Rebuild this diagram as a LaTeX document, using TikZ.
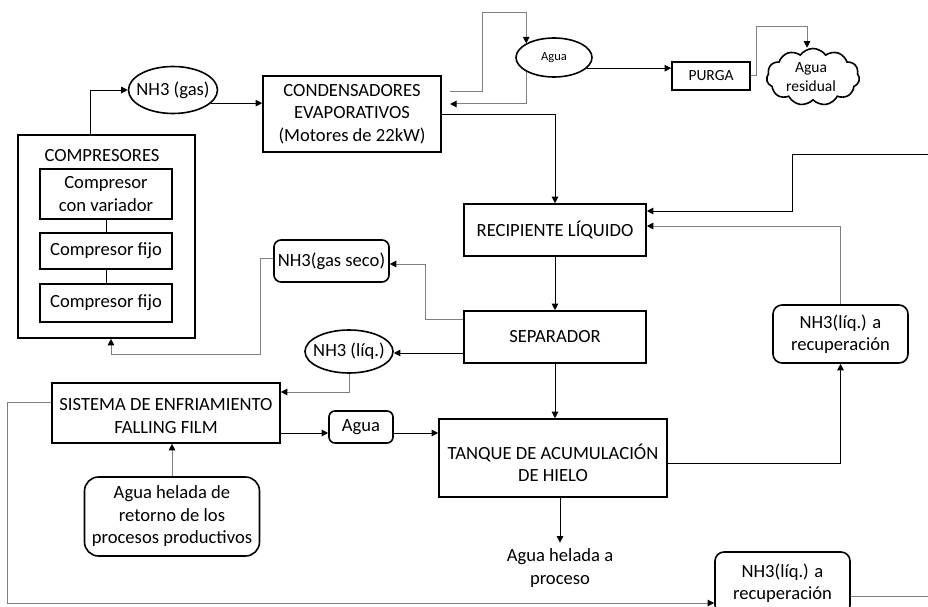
\documentclass[tikz,border=0pt]{standalone}
\usepackage{fontspec}
\setmainfont{Carlito}
\usetikzlibrary{arrows.meta,shapes.geometric,shapes.symbols}
\begin{document}
\begin{tikzpicture}[x=1pt,y=-1pt,
 mainfont/.style={font=\fontsize{18.6}{22.5}\selectfont},
 box/.style={draw,line width=1.6pt,inner sep=0pt,align=center,mainfont},
 rbox/.style={box,rounded corners=9pt},
 ell/.style={draw,ellipse,line width=1.6pt,inner sep=0pt},
 txt/.style={inner sep=0pt,align=center,mainfont},
 conn/.style={line width=0.9pt,draw=black},
 gconn/.style={line width=1pt,draw=black!50},
 arr/.style={-{Triangle[length=6.5pt,width=6.5pt,color=black]}}
]
\useasboundingbox (0,0) rectangle (928,607);

% compressors
\node[box,minimum width=177pt,minimum height=203pt] (comp) at (106.5,236.5) {};
\node[txt] (complbl) at (102,156) {COMPRESORES};
\node[box,minimum width=132pt,minimum height=50pt] (c1) at (106,194) {Compresor\\con variador};
\node[box,minimum width=132pt,minimum height=36pt] (c2) at (106,251) {Compresor fijo};
\node[box,minimum width=132pt,minimum height=38pt] (c3) at (106,303) {Compresor fijo};
\draw[conn] (c1) -- (c2);
\draw[conn] (c2) -- (c3);

% NH3 gas
\node[ell,minimum width=89pt,minimum height=47pt] (gas) at (173,90) {};
\node[txt] (gastxt) at (173,90) {NH3 (gas)};

% condensers
\node[box,minimum width=178pt,minimum height=76pt] (cond) at (352,114) {CONDENSADORES\\EVAPORATIVOS\\(Motores de 22kW)};

% agua / purga / cloud
\node[ell,minimum width=76pt,minimum height=39pt,font=\fontsize{12.5}{14}\selectfont] (agua) at (554,57.5) {Agua};
\node[box,minimum width=78pt,minimum height=28pt,font=\fontsize{15.5}{18}\selectfont] (purga) at (711,76) {PURGA};
\node[draw,cloud,cloud puffs=11,cloud puff arc=110,aspect=1.6,line width=1.6pt,minimum width=93pt,minimum height=57pt,inner sep=0pt] (cloud) at (813,77) {};
\node[inner sep=0pt,align=center,font=\fontsize{15.5}{18.5}\selectfont] (cloudtxt) at (811,77) {Agua\\residual};

% main column
\node[box,minimum width=182pt,minimum height=52pt] (recip) at (555,230) {RECIPIENTE LÍQUIDO};
\node[box,minimum width=182pt,minimum height=52pt] (sep) at (555,337) {SEPARADOR};
\node[box,minimum width=228pt,minimum height=78pt] (tanque) at (553,458) {};
\node[txt] (tanquetxt) at (553,463) {TANQUE DE ACUMULACIÓN\\DE HIELO};
\node[txt] (proc) at (560,568) {Agua helada a\\proceso};

% recovery boxes
\node[rbox,minimum width=135pt,minimum height=58pt] (recup1) at (840.5,334) {NH3(líq.) a\\recuperación};
\node[rbox,minimum width=135pt,minimum height=62pt] (recup2) at (782.5,583) {NH3(líq.) a\\recuperación};

% left middle
\node[rbox,minimum width=115pt,minimum height=42pt,rounded corners=7pt] (gasseco) at (331.5,261) {NH3(gas seco)};
\node[ell,minimum width=88pt,minimum height=43pt] (liq) at (349,351.5) {};
\node[txt] (liqtxt) at (349,351.5) {NH3 (líq.)};
\node[box,minimum width=228pt,minimum height=60pt] (sist) at (166,413) {};
\node[txt] (sisttxt) at (166,416) {SISTEMA DE ENFRIAMIENTO\\FALLING FILM};
\node[rbox,minimum width=64pt,minimum height=32pt,rounded corners=6pt] (aguab) at (361,427) {Agua};
\node[rbox,minimum width=175pt,minimum height=79pt,rounded corners=14pt] (ret) at (172,516.5) {Agua helada de\\retorno de los\\procesos productivos};

% free ends
\coordinate (lo1) at (450,92);
\coordinate (lo2) at (450,104);
\coordinate (rin) at (928,154);
\coordinate (rout) at (928,596);

% connectors
\draw[conn,arr] ([xshift=-16.5pt]comp.north) |- (gas.west);
\draw[conn,arr] (gas.-19) -- (gas.-19 -| cond.west);
\draw[gconn,arr] (lo1) -| (482,13) -| (agua.153);
\draw[gconn,arr] (agua.207) |- (lo2);
\draw[conn,arr] (agua.-18) -- (agua.-18 -| purga.west);
\draw[gconn,arr] (purga.east) -| (756,27) -| ([xshift=-6pt]cloud.north);
\draw[conn,arr] (cond.east) -| (recip.north);
\draw[conn,arr] (recip.south) -- (sep.north);
\draw[conn,arr] (sep.south) -- (sep.south |- tanque.north);
\draw[conn,arr] (rin) -| (792,211) -- ([yshift=19pt]recip.east);
\draw[gconn,arr] (recup1.north) |- ([yshift=4pt]recip.east);
\draw[conn,arr] ([yshift=-5pt]tanque.east) -| (recup1.south);
\draw[conn,arr] (proc.north |- tanque.south) -- ([yshift=6pt]proc.north);
\draw[gconn,arr] ([yshift=18pt]sep.west) -| (425,264) -- ([yshift=-3pt]gasseco.east);
\draw[gconn,arr] ([yshift=3pt]gasseco.west) -| (260,354) -| ([xshift=4.5pt]comp.south);
\draw[conn,arr] ([yshift=-16pt]sep.west) -- ([yshift=-16pt]sep.west -| liq.east);
\draw[gconn,arr] (liq.south) |- ([yshift=21pt]sist.east);
\draw[conn,arr] ([yshift=-20pt]sist.east) -- ([yshift=-6pt]aguab.west);
\draw[conn,arr] ([yshift=-6pt]aguab.east) -- ([yshift=25pt]tanque.west);
\draw[gconn,arr] (ret.north) -- (ret.north |- sist.south);
\draw[gconn,arr] ([yshift=11pt]sist.west) -| (7,603) -- ([yshift=-20pt]recup2.west);
\draw[gconn] ([yshift=-13pt]recup2.east) -- (rout);
\end{tikzpicture}
\end{document}
